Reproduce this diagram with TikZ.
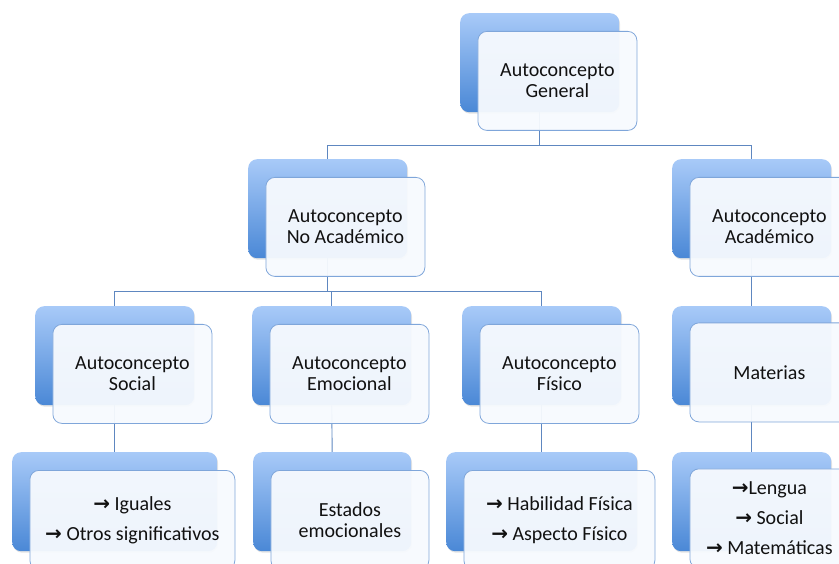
\documentclass[tikz,border=0pt]{standalone}
\usepackage{fontspec}
\setmainfont{Carlito}
\newfontfamily\arrfont{DejaVu Sans}
\usetikzlibrary{shadows}
\pgfdeclarelayer{bg}
\pgfsetlayers{bg,main}
\definecolor{backtop}{HTML}{A8CAF8}
\definecolor{backbot}{HTML}{4A88D6}
\definecolor{frontfill}{HTML}{F7FAFE}
\definecolor{frontline}{HTML}{7FA6DA}
\definecolor{conn}{HTML}{5E87C0}
\definecolor{txt}{HTML}{111111}
\tikzset{
  backbox/.style={rectangle, rounded corners=9pt, top color=backtop, bottom color=backbot,
    inner sep=0pt, anchor=north west, minimum height=99pt,
    drop shadow={opacity=0.22, shadow xshift=0.8pt, shadow yshift=-1.5pt}},
  frontbox/.style={rectangle, rounded corners=9pt, fill=frontfill, fill opacity=0.95, text opacity=1,
    draw=frontline, line width=0.8pt, inner sep=0pt, anchor=north west, align=center,
    minimum height=99pt, font=\fontsize{20}{21.5}\selectfont, text=txt},
  conline/.style={draw=conn, line width=0.9pt},
}
\newcommand\arw{{\arrfont\bfseries →}}
\begin{document}
\begin{tikzpicture}[x=1pt,y=-1pt]
\useasboundingbox (0,0) rectangle (839,564);
\clip (0,0) rectangle (839,564);
% level 1
\node[backbox, minimum width=159pt] (bgen) at (460,13) {};
\node[frontbox, minimum width=159pt] (fgen) at (477.5,31) {Autoconcepto\\General};
% level 2
\node[backbox, minimum width=159pt] (bnoac) at (248,159) {};
\node[frontbox, minimum width=159pt] (fnoac) at (265.5,177) {Autoconcepto\\No Académico};
\node[backbox, minimum width=159pt] (bacad) at (672,159) {};
\node[frontbox, minimum width=159pt] (facad) at (689.5,177) {Autoconcepto\\Académico};
% level 3
\node[backbox, minimum width=159pt] (bsoc) at (35,306) {};
\node[frontbox, minimum width=159pt] (fsoc) at (52.5,324) {Autoconcepto\\Social};
\node[backbox, minimum width=159pt] (bemo) at (252,306) {};
\node[frontbox, minimum width=159pt] (femo) at (269.5,324) {Autoconcepto\\Emocional};
\node[backbox, minimum width=159pt] (bfis) at (462,306) {};
\node[frontbox, minimum width=159pt] (ffis) at (479.5,324) {Autoconcepto\\Físico};
\node[backbox, minimum width=159pt] (bmat) at (672,306) {};
\node[frontbox, minimum width=159pt] (fmat) at (689.5,322.5) {Materias};
% level 4
\node[backbox, minimum width=205pt] (bigu) at (12,452) {};
\node[frontbox, minimum width=205pt] (figu) at (29.5,470) {\arw\ Iguales\\[8.5pt]\arw\ Otros significativos};
\node[backbox, minimum width=158pt] (best) at (253,452) {};
\node[frontbox, minimum width=158pt] (fest) at (270.5,470) {Estados\\emocionales};
\node[backbox, minimum width=191pt] (bhab) at (446,452) {};
\node[frontbox, minimum width=191pt] (fhab) at (463.5,470) {\arw\ Habilidad Física\\[8.5pt]\arw\ Aspecto Físico};
\node[backbox, minimum width=159pt] (blen) at (672,452) {};
\node[frontbox, minimum width=159pt] (flen) at (689.5,468.5) {\arw Lengua\\[8.5pt]\arw\ Social\\[8.5pt]\arw\ Matemáticas};
% connectors
\coordinate (bus1) at (0,145);
\coordinate (bus2) at (0,291);
\begin{pgfonlayer}{bg}
\draw[conline] (bgen.south) -- (bgen.south |- bus1);
\draw[conline] (bnoac.north) |- (bacad.north |- bus1) -- (bacad.north);
\draw[conline] (bnoac.south) -- (bnoac.south |- bus2);
\draw[conline] (bsoc.north) |- (bfis.north |- bus2) -- (bfis.north);
\draw[conline] (bemo.north) -- (bemo.north |- bus2);
\draw[conline] (bacad.south) -- (bmat.north);
\draw[conline] (bsoc.south) -- (bigu.north);
\draw[conline] (bemo.south) -- (best.north);
\draw[conline] (bfis.south) -- (bhab.north);
\draw[conline] (bmat.south) -- (blen.north);
\end{pgfonlayer}
\end{tikzpicture}
\end{document}
